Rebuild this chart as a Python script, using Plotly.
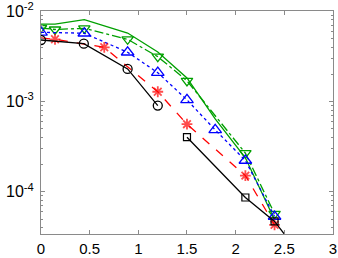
import plotly.graph_objects as go

# data
x_green_solid = [0, 0.144, 0.445, 0.89, 1.2, 1.5, 1.79, 2.1, 2.4]
y_green_solid = [7.18e-3, 7.18e-3, 8.05e-3, 5.71e-3, 3.52e-3, 1.82e-3, 6.4e-4, 2.38e-4, 4.91e-5]

x_green_dd = [0, 0.144, 0.445, 0.89, 1.2, 1.5, 2.1, 2.4]
y_green_dd = [6.49e-3, 6.25e-3, 6.44e-3, 4.87e-3, 3.13e-3, 1.69e-3, 2.68e-4, 5.71e-5]

x_blue = [0, 0.445, 0.89, 1.2, 1.5, 1.79, 2.1, 2.4]
y_blue = [5.82e-3, 5.68e-3, 3.50e-3, 2.08e-3, 1.04e-3, 4.84e-4, 2.22e-4, 5.33e-5]

x_red = [0, 0.144, 0.65, 1.2, 1.5, 2.1, 2.4]
y_red = [5.04e-3, 4.87e-3, 3.97e-3, 1.28e-3, 5.60e-4, 1.51e-4, 4.31e-5]

x_black_c = [0, 0.44, 0.89, 1.2]
y_black_c = [4.78e-3, 4.35e-3, 2.29e-3, 8.99e-4]

x_black_s = [1.5, 2.1, 2.4, 2.7]
y_black_s = [4.02e-4, 8.65e-5, 4.70e-5, 1.8e-5]

x_ticks = [0, 0.5, 1, 1.5, 2, 2.5, 3]
x_ticklabels = ["0", "0.5", "1", "1.5", "2", "2.5", "3"]
y_ticks = [1e-4, 1e-3, 1e-2]
y_ticklabels = ["10<sup>-4</sup>", "10<sup>-3</sup>", "10<sup>-2</sup>"]

GREEN = "#00a000"
fig = go.Figure()
fig.add_trace(go.Scatter(x=x_green_solid, y=y_green_solid, mode="lines",
                         line=dict(color=GREEN, width=1.3)))
fig.add_trace(go.Scatter(x=x_green_dd, y=y_green_dd, mode="lines+markers",
                         line=dict(color=GREEN, width=1.3, dash="dashdot"),
                         marker=dict(symbol="triangle-down-open", size=10, color=GREEN,
                                     line=dict(width=1.3))))
fig.add_trace(go.Scatter(x=x_blue, y=y_blue, mode="lines+markers",
                         line=dict(color="blue", width=1.3, dash="dot"),
                         marker=dict(symbol="triangle-up-open", size=11, color="blue",
                                     line=dict(width=1.3))))
fig.add_trace(go.Scatter(x=x_red, y=y_red, mode="lines+markers",
                         line=dict(color="red", width=1.3, dash="dash"),
                         marker=dict(symbol="asterisk-open", size=[0, 9, 9, 9, 9, 9, 9],
                                     color="red", line=dict(width=1.8, color="red"))))
fig.add_trace(go.Scatter(x=x_black_c, y=y_black_c, mode="lines+markers",
                         line=dict(color="black", width=1.3),
                         marker=dict(symbol="circle-open", size=9, color="black",
                                     line=dict(width=1.3))))
fig.add_trace(go.Scatter(x=x_black_s, y=y_black_s, mode="lines+markers",
                         line=dict(color="black", width=1.3),
                         marker=dict(symbol="square-open", size=7, color="black",
                                     line=dict(width=1.2))))

axis_common = dict(showline=True, linecolor="#8a8a8a", linewidth=1, mirror="ticks",
                   ticks="inside", ticklen=4, tickcolor="#8a8a8a", showgrid=False,
                   zeroline=False, automargin=False, ticklabeloverflow="allow")
fig.update_xaxes(range=[0, 3.0005], tickvals=x_ticks, ticktext=x_ticklabels,
                 ticklabelstandoff=1,
                 tickfont=dict(family="Liberation Sans, Arial, sans-serif", size=15, color="black"),
                 **axis_common)
fig.update_yaxes(type="log", range=[-4.467, -1.9995], tickvals=y_ticks, ticktext=y_ticklabels,
                 minor=dict(ticks="inside", ticklen=2, tickcolor="#8a8a8a", dtick="D1"),
                 ticklabelstandoff=3,
                 tickfont=dict(family="Liberation Sans, Arial, sans-serif", size=16, color="black"),
                 **axis_common)
fig.update_layout(width=338, height=258, margin=dict(l=41, r=5, t=11, b=24),
                  showlegend=False, plot_bgcolor="white", paper_bgcolor="white")
fig.write_html("out.html", config={"displayModeBar": False},
               post_script="document.body.style.margin='0px';document.body.style.padding='0px';")
